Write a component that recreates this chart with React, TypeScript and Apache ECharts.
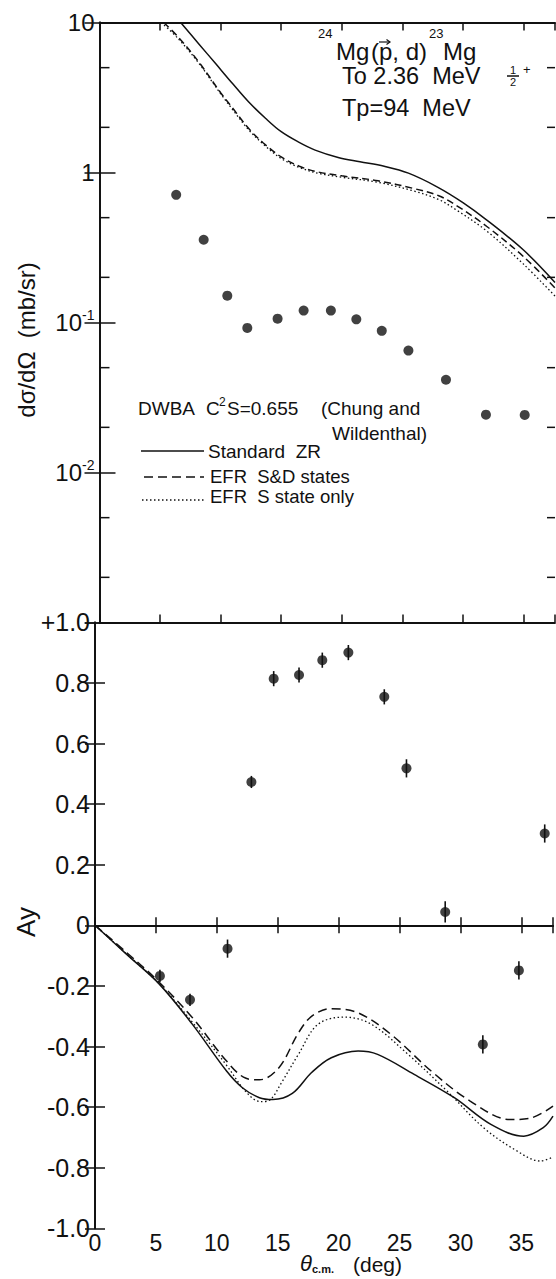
import React, { useEffect, useRef } from "react";
import * as echarts from "echarts";

// ---------- data ----------
const xMax = 37.6;
const xTickStep = 5;

// cross-section data (mb/sr)
const sigmaAngles = [6.33, 8.6, 10.55, 12.2, 14.7, 16.85, 19.1, 21.2, 23.3, 25.5, 28.6, 31.9, 35.1];
const sigmaValues = [0.71, 0.356, 0.151, 0.092, 0.106, 0.12, 0.12, 0.105, 0.088, 0.065, 0.0415, 0.0243, 0.0242];

// DWBA curves, cross section
const zrSigmaX = [6.7, 8.2, 9.6, 11, 12.3, 13.7, 15, 16.4, 17.8, 19.7, 21.5, 23.5, 25.5, 27.9, 30, 32, 35, 37.6];
const zrSigmaY = [10, 7.2, 5.3, 3.9, 2.96, 2.3, 1.87, 1.6, 1.41, 1.26, 1.18, 1.1, 0.99, 0.8, 0.63, 0.48, 0.304, 0.185];
const sdSigmaX = [5.3, 6.5, 8.2, 10, 11, 12.3, 13.5, 15, 16.5, 18, 20, 23, 26, 28, 29.5, 32, 35, 37.6];
const sdSigmaY = [10, 8.0, 5.45, 3.4, 2.68, 1.97, 1.58, 1.27, 1.1, 1.01, 0.95, 0.88, 0.78, 0.7, 0.6, 0.435, 0.275, 0.17];
const sSigmaX = [5.1, 6.5, 8.2, 10, 11, 12.3, 13.5, 15, 16.5, 18, 20, 23, 26, 28, 29.5, 32, 35, 37.6];
const sSigmaY = [10, 7.8, 5.35, 3.35, 2.62, 1.93, 1.55, 1.24, 1.08, 0.99, 0.93, 0.86, 0.75, 0.66, 0.56, 0.405, 0.245, 0.15];

// analyzing power data
const ayAngles = [5.33, 7.8, 10.88, 12.84, 14.67, 16.75, 18.66, 20.8, 23.75, 25.57, 28.75, 31.84, 34.8, 36.92];
const ayValues = [-0.167, -0.246, -0.077, 0.473, 0.814, 0.826, 0.875, 0.9, 0.754, 0.518, 0.044, -0.393, -0.149, 0.303];
const ayErrors = [0.02, 0.02, 0.03, 0.02, 0.025, 0.025, 0.025, 0.025, 0.025, 0.03, 0.035, 0.03, 0.03, 0.03];

// DWBA curves, analyzing power
const zrAyX = [0, 2.6, 5.3, 8, 10.8, 12.1, 13.5, 14.6, 16.2, 17.8, 19.4, 21.6, 23.2, 26.2, 29.5, 32.5, 35.2, 36.8, 37.6];
const zrAyY = [0, -0.096, -0.195, -0.327, -0.481, -0.536, -0.569, -0.575, -0.555, -0.485, -0.437, -0.415, -0.426, -0.492, -0.569, -0.657, -0.696, -0.668, -0.63];
const sdAyX = [0, 2.6, 5.05, 8, 10.8, 12.4, 13.5, 15.1, 16.7, 17.8, 19.4, 21.6, 24.3, 27.6, 30.8, 34.1, 35.7, 37.6];
const sdAyY = [0, -0.09, -0.179, -0.305, -0.448, -0.505, -0.51, -0.47, -0.355, -0.3, -0.275, -0.289, -0.36, -0.481, -0.58, -0.641, -0.637, -0.597];
const sAyX = [0, 2.6, 5.2, 8, 10.8, 12.4, 13.6, 14.4, 15.3, 16.7, 18.3, 20.5, 22.7, 25.7, 28.9, 31.9, 34.65, 36.55, 37.6];
const sAyY = [0, -0.095, -0.19, -0.32, -0.462, -0.55, -0.582, -0.575, -0.52, -0.426, -0.327, -0.303, -0.327, -0.426, -0.547, -0.668, -0.745, -0.778, -0.765];

// log-axis minor tick values (2 and 5 of each decade)
const minorLogTicks = [5, 2, 0.5, 0.2, 0.05, 0.02, 0.005, 0.002];

const FONT = "Liberation Sans";
const INK = "#111";

const zip = (a: number[], b: number[]) => a.map((v, i) => [v, b[i]]);

function txt(text: string, x: number, y: number, fs: number, extra: any = {}) {
  return {
    type: "text",
    x,
    y,
    silent: true,
    ...extra,
    style: {
      text,
      fontSize: fs,
      fontFamily: FONT,
      fill: INK,
      textAlign: "left",
      textVerticalAlign: "middle",
      ...(extra.style || {}),
    },
  };
}

function seg(x1: number, y1: number, x2: number, y2: number, dash: any = null, w = 1.5) {
  return {
    type: "line",
    silent: true,
    shape: { x1, y1, x2, y2 },
    style: { stroke: INK, lineWidth: w, lineDash: dash },
  };
}

export default function App() {
  const ref = useRef<HTMLDivElement>(null);

  useEffect(() => {
    if (!ref.current) return;
    const chart = echarts.init(ref.current, null, { renderer: "svg" });

    const axisLine = { show: true, lineStyle: { color: INK, width: 1.8 } };
    const tick = (len: number) => ({ show: true, inside: true, length: len, lineStyle: { color: INK, width: 1.5 } });

    const xBase = (gridIndex: number, position: string) => ({
      type: "value",
      gridIndex,
      position,
      min: 0,
      max: xMax,
      interval: xTickStep,
      axisLine,
      axisTick: tick(8),
      axisLabel: { show: false },
      splitLine: { show: false },
    });

    const lineSeries = (name: string, data: number[][], dash: any, xi: number, yi: number, extra: any = {}) => ({
      name,
      type: "line",
      xAxisIndex: xi,
      yAxisIndex: yi,
      data,
      smooth: 0.35,
      symbol: "none",
      clip: true,
      lineStyle: { color: INK, width: 1.5, type: dash },
      z: 3,
      ...extra,
    });

    const option: any = {
      animation: false,
      backgroundColor: "#fff",
      grid: [
        { left: 99.5, top: 22.5, width: 455.5, height: 600 },
        { left: 95, top: 622.3, width: 460, height: 606 },
      ],
      xAxis: [
        xBase(0, "top"),
        xBase(0, "bottom"),
        xBase(1, "top"),
        {
          ...xBase(1, "bottom"),
          axisLabel: {
            show: true,
            margin: 3,
            fontSize: 23,
            fontFamily: FONT,
            color: INK,
            formatter: (v: number) => (Math.abs(v % 5) < 1e-6 ? String(v) : ""),
          },
        },
      ],
      yAxis: [
        {
          type: "log",
          logBase: 10,
          gridIndex: 0,
          position: "left",
          min: 0.001,
          max: 10,
          axisLine,
          axisTick: tick(16),
          splitLine: { show: false },
          axisLabel: {
            show: true,
            margin: 5,
            color: INK,
            fontFamily: FONT,
            fontSize: 24,
            formatter: (v: number) => {
              const e = Math.round(Math.log10(v));
              if (e === 1) return "{b|10}";
              if (e === 0) return "{b|1}";
              if (e <= -3) return "";
              return "{b|10}{s|" + e + "}";
            },
            rich: {
              b: { fontSize: 24, fontFamily: FONT, color: INK, lineHeight: 30 },
              s: { fontSize: 14, fontFamily: FONT, color: INK, verticalAlign: "top", lineHeight: 14, padding: [0, 0, 12, 0] },
            },
          },
        },
        {
          type: "log",
          logBase: 10,
          gridIndex: 0,
          position: "right",
          min: 0.001,
          max: 10,
          axisLine,
          axisTick: tick(15),
          splitLine: { show: false },
          axisLabel: { show: false },
        },
        {
          type: "value",
          gridIndex: 1,
          position: "left",
          min: -1,
          max: 1,
          interval: 0.2,
          axisLine,
          axisTick: tick(10),
          splitLine: { show: false },
          axisLabel: {
            show: true,
            margin: 5,
            color: INK,
            fontFamily: FONT,
            fontSize: 25,
            formatter: (v: number) => {
              const r = Math.round(v * 10) / 10;
              if (r === 1) return "+1.0";
              if (r === 0) return "0";
              return r.toFixed(1);
            },
          },
        },
        {
          type: "value",
          gridIndex: 1,
          position: "right",
          min: -1,
          max: 1,
          interval: 0.2,
          axisLine,
          axisTick: tick(10),
          splitLine: { show: false },
          axisLabel: { show: false },
        },
      ],
      series: [
        // minor ticks for the log axes
        {
          type: "custom",
          xAxisIndex: 0,
          yAxisIndex: 0,
          clip: false,
          silent: true,
          data: minorLogTicks.map((v) => [0, v]),
          renderItem: (_p: any, api: any) => {
            const v = api.value(1);
            const l = api.coord([0, v]);
            const r = api.coord([xMax, v]);
            return {
              type: "group",
              children: [
                { type: "line", shape: { x1: l[0], y1: l[1], x2: l[0] + 10, y2: l[1] }, style: { stroke: INK, lineWidth: 1.5 } },
                { type: "line", shape: { x1: r[0] - 8, y1: r[1], x2: r[0], y2: r[1] }, style: { stroke: INK, lineWidth: 1.5 } },
              ],
            };
          },
        },
        lineSeries("Standard ZR", zip(zrSigmaX, zrSigmaY), "solid", 0, 0),
        lineSeries("EFR S&D states", zip(sdSigmaX, sdSigmaY), [7, 4], 0, 0),
        lineSeries("EFR S state only", zip(sSigmaX, sSigmaY), [1.5, 2.5], 0, 0, { lineStyle: { color: INK, width: 1.3, type: [1.5, 2.5] } }),
        {
          type: "scatter",
          xAxisIndex: 0,
          yAxisIndex: 0,
          data: zip(sigmaAngles, sigmaValues),
          symbol: "circle",
          symbolSize: 10,
          itemStyle: { color: INK },
          z: 4,
        },
        lineSeries("Standard ZR Ay", zip(zrAyX, zrAyY), "solid", 3, 2, {
          markLine: {
            silent: true,
            symbol: "none",
            label: { show: false },
            lineStyle: { color: INK, width: 1.5, type: "solid" },
            data: [{ yAxis: 0 }],
          },
        }),
        lineSeries("EFR S&D states Ay", zip(sdAyX, sdAyY), [9, 5], 3, 2),
        lineSeries("EFR S state only Ay", zip(sAyX, sAyY), [1.5, 2.5], 3, 2, { lineStyle: { color: INK, width: 1.3, type: [1.5, 2.5] } }),
        {
          type: "custom",
          xAxisIndex: 3,
          yAxisIndex: 2,
          silent: true,
          data: ayAngles.map((a, i) => [a, ayValues[i], ayErrors[i]]),
          renderItem: (_p: any, api: any) => {
            const x = api.value(0);
            const y = api.value(1);
            const e = api.value(2);
            const lo = api.coord([x, y - e]);
            const hi = api.coord([x, y + e]);
            return { type: "line", shape: { x1: lo[0], y1: lo[1], x2: hi[0], y2: hi[1] }, style: { stroke: INK, lineWidth: 1.6 } };
          },
          z: 4,
        },
        {
          type: "scatter",
          xAxisIndex: 3,
          yAxisIndex: 2,
          data: zip(ayAngles, ayValues),
          symbol: "circle",
          symbolSize: 10,
          itemStyle: { color: INK },
          z: 5,
        },
      ],
      graphic: {
        elements: [
          // reaction header
          txt("24", 318, 33, 13),
          txt("Mg", 336, 51, 24),
          txt("(p, d)", 371, 51, 24),
          seg(379, 42, 390, 42, null, 1.2),
          { type: "polyline", silent: true, shape: { points: [[386.5, 39.5], [390, 42], [386.5, 44.5]] }, style: { stroke: INK, lineWidth: 1.2, fill: null } },
          txt("23", 429, 33, 13),
          txt("Mg", 443, 51, 24),
          txt("To 2.36  MeV", 342, 76, 23.5),
          txt("1", 510, 70, 11),
          seg(507, 76, 519, 76),
          txt("2", 510, 82, 11),
          txt("+", 523, 69, 13),
          txt("Tp=94  MeV", 342, 108, 23.5),
          // DWBA annotation
          txt("DWBA", 138, 408, 19),
          txt("C", 206, 408, 19),
          txt("2", 219, 402, 12),
          txt("S=0.655", 227, 408, 19),
          txt("(Chung and", 321, 408, 19),
          txt("Wildenthal)", 332, 433, 19),
          // legend
          seg(141, 451, 204, 451),
          txt("Standard  ZR", 208, 451, 19),
          seg(144, 477, 204, 477, [9, 5]),
          txt("EFR  S&D states", 210, 476, 18.5),
          seg(142, 500, 204, 500, [1.5, 2.5]),
          txt("EFR  S state only", 210, 496, 18.5),
          // axis titles
          txt("d\u03c3/d\u03a9  (mb/sr)", 26, 340, 24, { rotation: Math.PI / 2, style: { textAlign: "center" } }),
          txt("Ay", 26, 922, 26, { rotation: Math.PI / 2, style: { textAlign: "center" } }),
          txt("\u03b8", 300, 1263, 22, { style: { fontStyle: "italic" } }),
          txt("c.m.", 312, 1269, 11, { style: { fontWeight: "bold" } }),
          txt("(deg)", 353, 1264, 21),
        ],
      },
    };

    chart.setOption(option);
    return () => chart.dispose();
  }, []);

  return (
    <div
      ref={ref}
      style={{ position: "fixed", left: 0, top: 0, width: 556, height: 1279, background: "#fff" }}
    />
  );
}
